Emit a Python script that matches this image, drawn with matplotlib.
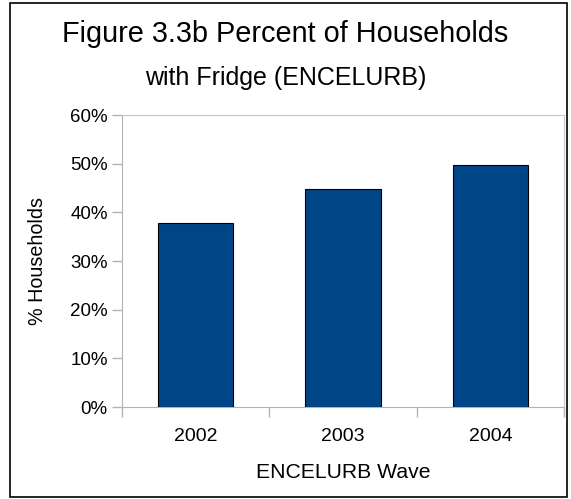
import matplotlib
matplotlib.use("Agg")
import matplotlib.pyplot as plt
from matplotlib.patches import Rectangle
from matplotlib.ticker import PercentFormatter, FixedLocator

plt.rcParams["font.family"] = ["Liberation Sans", "DejaVu Sans"]

# Survey waves and share of households owning a fridge
waves = ["2002", "2003", "2004"]
pct_fridge = [0.378, 0.447, 0.497]

W, H = 571, 499
fig = plt.figure(figsize=(W / 100, H / 100), dpi=100)

# plot area placed in pixel terms
left, right, top, bottom = 122, 564, 115, 407
ax = fig.add_axes([left / W, 1 - bottom / H, (right - left) / W, (bottom - top) / H])

x = list(range(len(waves)))
ax.bar(x, pct_fridge, width=0.51, color="#004586", edgecolor="black", linewidth=0.8, zorder=3)

ax.set_xlim(-0.5, len(waves) - 0.5)
ax.set_ylim(0, 0.6)
ax.set_yticks([i / 10 for i in range(7)])
ax.yaxis.set_major_formatter(PercentFormatter(1.0, decimals=0))

ax.set_xticks(x)
ax.set_xticklabels(waves)
ax.xaxis.set_minor_locator(FixedLocator([i - 0.5 for i in range(len(waves) + 1)]))

grey = "#b3b3b3"
ax.tick_params(axis="y", direction="out", length=7.2, width=1, color=grey,
               labelsize=13.5, pad=3)
ax.tick_params(axis="x", which="major", length=0, labelsize=14, pad=15)
ax.tick_params(axis="x", which="minor", direction="out", length=7.2, width=1, color=grey)

for side in ["left", "bottom"]:
    ax.spines[side].set_color(grey)
for side in ["top", "right"]:
    ax.spines[side].set_color("#c8c8c8")

ax.set_xlabel("ENCELURB Wave", fontsize=15.2, labelpad=13)
ax.set_ylabel("% Households", fontsize=14.2, labelpad=17)

fig.text(0.5, 1 - 42 / H, "Figure 3.3b Percent of Households", ha="center",
         va="baseline", fontsize=20.8)
fig.text(0.5, 1 - 85 / H, "with Fridge (ENCELURB)", ha="center",
         va="baseline", fontsize=18)

# outer border round the whole chart
fig.patches.append(Rectangle((10 / W, 2 / H), 557 / W, 494 / H, transform=fig.transFigure,
                             fill=False, edgecolor="black", linewidth=1.2))

fig.savefig("out.png", dpi=100)
